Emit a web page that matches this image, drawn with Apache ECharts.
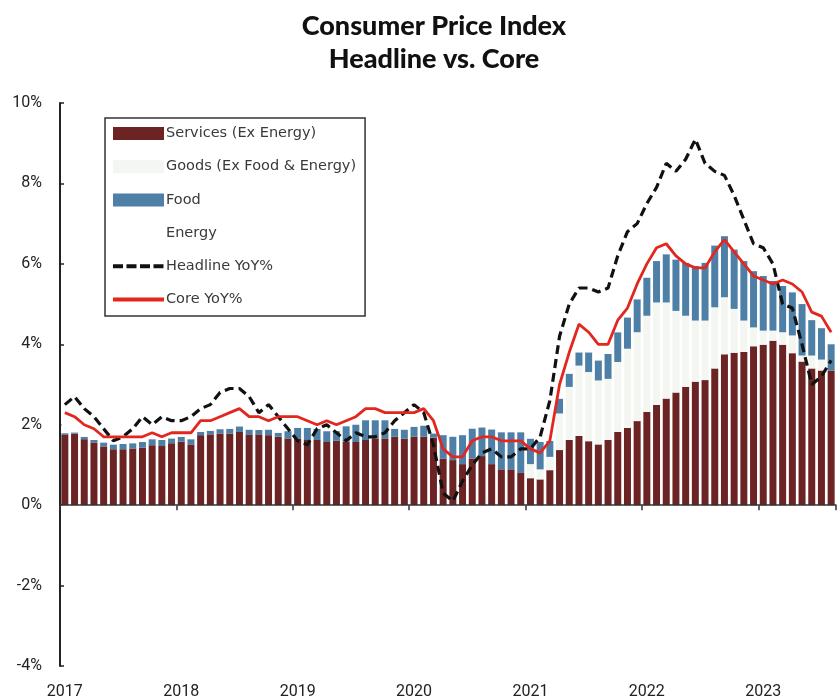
<!DOCTYPE html>
<html>
<head>
<meta charset="utf-8">
<script src="https://cdn.jsdelivr.net/npm/echarts@6/dist/echarts.min.js"></script>
<style>
  html, body { margin: 0; padding: 0; background: #fff; }
  #chart { width: 838px; height: 700px; }
</style>
</head>
<body>
<div id="chart"></div>
<script>
// Contributions to CPI YoY %, monthly Jan 2017 - Aug 2023
const months = [];
for (let y = 2017; y <= 2023; y++) {
  for (let m = 1; m <= 12; m++) {
    if (y === 2023 && m > 8) break;
    months.push(y + "-" + String(m).padStart(2, "0"));
  }
}

const services = [
  1.76, 1.78, 1.64, 1.56, 1.46, 1.39, 1.39, 1.41, 1.43, 1.49, 1.47, 1.54,
  1.58, 1.51, 1.74, 1.76, 1.78, 1.78, 1.82, 1.76, 1.76, 1.74, 1.70, 1.66,
  1.66, 1.62, 1.62, 1.57, 1.60, 1.58, 1.57, 1.62, 1.66, 1.66, 1.70, 1.65,
  1.70, 1.70, 1.68, 1.16, 1.12, 1.02, 1.16, 1.22, 1.02, 0.89, 0.89, 0.80,
  0.67, 0.64, 0.87, 1.37, 1.62, 1.72, 1.59, 1.51, 1.62, 1.82, 1.92, 2.09,
  2.32, 2.49, 2.65, 2.80, 2.94, 3.07, 3.11, 3.40, 3.75, 3.79, 3.81, 3.95,
  3.99, 4.09, 3.99, 3.78, 3.57, 3.40, 3.35, 3.35,
];
const goods = [
  -0.12, -0.13, -0.12, -0.14, -0.16, -0.18, -0.17, -0.18, -0.17, -0.20, -0.19, -0.10,
  -0.10, -0.12, -0.08, -0.06, -0.05, -0.02, -0.03, -0.05, -0.05, -0.08, -0.06, -0.02,
  -0.03, -0.02, -0.02, -0.02, -0.02, -0.04, -0.04, -0.05, -0.06, -0.06, -0.05, -0.03,
  -0.03, -0.02, -0.05, -0.15, -0.18, -0.15, -0.10, -0.02, -0.05, -0.05, -0.05, -0.05,
  0.35, 0.25, 0.33, 0.91, 1.32, 1.75, 1.72, 1.59, 1.52, 1.74, 1.97, 2.21,
  2.39, 2.55, 2.39, 2.03, 1.77, 1.52, 1.48, 1.52, 1.42, 1.09, 0.78, 0.47,
  0.35, 0.25, 0.31, 0.44, 0.15, 0.32, 0.27, 0.00,
];
const food = [
  0.03, 0.03, 0.06, 0.06, 0.10, 0.12, 0.13, 0.13, 0.14, 0.15, 0.15, 0.12,
  0.12, 0.13, 0.08, 0.09, 0.11, 0.12, 0.14, 0.12, 0.11, 0.14, 0.10, 0.18,
  0.26, 0.30, 0.28, 0.27, 0.24, 0.38, 0.43, 0.49, 0.45, 0.45, 0.20, 0.23,
  0.25, 0.28, 0.10, 0.58, 0.58, 0.72, 0.74, 0.71, 0.86, 0.92, 0.92, 1.01,
  0.63, 0.68, 0.40, 0.37, 0.33, 0.33, 0.49, 0.50, 0.62, 0.74, 0.78, 0.82,
  0.95, 1.03, 1.20, 1.28, 1.32, 1.36, 1.44, 1.54, 1.52, 1.48, 1.48, 1.40,
  1.36, 1.24, 1.15, 1.07, 1.28, 0.88, 0.78, 0.65,
];
const energy = [
  0.83, 1.02, 0.82, 0.72, 0.50, 0.27, 0.35, 0.54, 0.80, 0.56, 0.77, 0.54,
  0.50, 0.68, 0.66, 0.71, 0.96, 1.02, 0.97, 0.87, 0.48, 0.70, 0.46, 0.08,
  -0.29, -0.40, 0.02, 0.18, -0.02, -0.32, -0.16, -0.36, -0.35, -0.25, 0.25, 0.45,
  0.58, 0.34, -0.23, -1.19, -1.30, -0.89, -0.80, -0.61, -0.43, -0.56, -0.56, -0.36,
  -0.25, 0.13, 1.00, 1.55, 1.73, 1.60, 1.60, 1.70, 1.64, 1.90, 2.13, 1.88,
  1.84, 1.83, 2.26, 2.19, 2.57, 3.15, 2.47, 1.84, 1.51, 1.34, 1.03, 0.68,
  0.70, 0.42, -0.45, -0.39, -1.00, -1.60, -1.20, -0.30,
];
const headline = [
  2.5, 2.7, 2.4, 2.2, 1.9, 1.6, 1.7, 1.9, 2.2, 2.0, 2.2, 2.1,
  2.1, 2.2, 2.4, 2.5, 2.8, 2.9, 2.9, 2.7, 2.3, 2.5, 2.2, 1.9,
  1.6, 1.5, 1.9, 2.0, 1.8, 1.6, 1.8, 1.7, 1.7, 1.8, 2.1, 2.3,
  2.5, 2.3, 1.5, 0.3, 0.1, 0.6, 1.0, 1.3, 1.4, 1.2, 1.2, 1.4,
  1.4, 1.7, 2.6, 4.2, 5.0, 5.4, 5.4, 5.3, 5.4, 6.2, 6.8, 7.0,
  7.5, 7.9, 8.5, 8.3, 8.6, 9.1, 8.5, 8.3, 8.2, 7.7, 7.1, 6.5,
  6.4, 6.0, 5.0, 4.9, 4.0, 3.0, 3.2, 3.6,
];
const core = [
  2.3, 2.2, 2.0, 1.9, 1.7, 1.7, 1.7, 1.7, 1.7, 1.8, 1.7, 1.8,
  1.8, 1.8, 2.1, 2.1, 2.2, 2.3, 2.4, 2.2, 2.2, 2.1, 2.2, 2.2,
  2.2, 2.1, 2.0, 2.1, 2.0, 2.1, 2.2, 2.4, 2.4, 2.3, 2.3, 2.3,
  2.3, 2.4, 2.1, 1.4, 1.2, 1.2, 1.6, 1.7, 1.7, 1.6, 1.6, 1.6,
  1.4, 1.3, 1.6, 3.0, 3.8, 4.5, 4.3, 4.0, 4.0, 4.6, 4.9, 5.5,
  6.0, 6.4, 6.5, 6.2, 6.0, 5.9, 5.9, 6.3, 6.6, 6.3, 6.0, 5.7,
  5.6, 5.5, 5.6, 5.5, 5.3, 4.8, 4.7, 4.3,
];

const yearTick = (i) => i % 12 === 0;

// legend icons for the two lines (the lone moves keep the icon box 51x13)
const dashIcon = "path://M0,0M51,13M0,4.5h10v4h-10zM13.5,4.5h10v4h-10zM27,4.5h10v4h-10zM40.5,4.5h10v4h-10z";
const solidIcon = "path://M0,0M51,13M0,4.5h51v4h-51z";

function bar(name, data, color) {
  return {
    name,
    type: "bar",
    stack: "cpi",
    data,
    barCategoryGap: "28%",
    // the parts below zero are not shown in the original
    itemStyle: { color: (p) => (p.value < 0 ? "#ffffff" : color) },
    emphasis: { disabled: true },
  };
}

function buildOption() {
  return {
    backgroundColor: "#fff",
    animation: false,
    title: {
      text: "Consumer Price Index\nHeadline vs. Core",
      left: 429,
      top: 5,
      textAlign: "center",
      textStyle: {
        fontFamily: "Lato",
        fontWeight: 900,
        fontSize: 27,
        lineHeight: 33,
        color: "#111",
      },
    },
    legend: {
      orient: "vertical",
      left: 105,
      top: 118,
      padding: [8, 9, 9, 8],
      itemGap: 18.2,
      itemWidth: 51,
      itemHeight: 13,
      symbolKeepAspect: false,
      borderColor: "#333",
      borderWidth: 1.5,
      borderRadius: 0,
      backgroundColor: "#fff",
      textStyle: { fontFamily: "DejaVu Sans", fontSize: 14.5, color: "#3a3a3a", padding: [0, 0, 0, -3] },
      data: [
        { name: "Services (Ex Energy)", icon: "rect", itemStyle: { color: "#6b2323" } },
        { name: "Goods (Ex Food & Energy)", icon: "rect", itemStyle: { color: "#f3f6f1" } },
        { name: "Food", icon: "rect", itemStyle: { color: "#4d7fa7" } },
        { name: "Energy", icon: "rect", itemStyle: { color: "#ffffff" } },
        { name: "Headline YoY%", icon: dashIcon },
        { name: "Core YoY%", icon: solidIcon },
      ],
    },
    grid: { left: 60, right: 2, top: 103, bottom: 28 },
    xAxis: [
      {
        type: "category",
        data: months,
        position: "bottom",
        axisLine: { show: false, onZero: false },
        axisTick: { show: false },
        axisLabel: {
          interval: (i) => yearTick(i),
          formatter: (v) => v.slice(0, 4),
          color: "#222",
          fontFamily: "Roboto",
          fontSize: 16,
          margin: 18,
        },
      },
      {
        type: "category",
        data: months,
        position: "top",
        z: 10,
        axisLine: { onZero: true, lineStyle: { color: "#333", width: 1.5 } },
        axisTick: {
          show: true,
          inside: true,
          interval: (i) => yearTick(i),
          length: 5,
          lineStyle: { color: "#333", width: 1.5 },
        },
        axisLabel: { show: false },
      },
    ],
    yAxis: {
      type: "value",
      min: -4,
      max: 10,
      interval: 2,
      axisLine: { show: true, lineStyle: { color: "#222", width: 2 } },
      axisTick: { show: true, inside: true, length: 4, lineStyle: { color: "#222", width: 1.5 } },
      splitLine: { show: false },
      axisLabel: {
        formatter: "{value}%",
        color: "#222",
        fontFamily: "Roboto",
        fontSize: 16,
        margin: 18,
      },
    },
    series: [
      bar("Services (Ex Energy)", services, "#6b2323"),
      bar("Goods (Ex Food & Energy)", goods, "#f3f6f1"),
      bar("Food", food, "#4d7fa7"),
      bar("Energy", energy, "#ffffff"),
      {
        name: "Headline YoY%",
        type: "line",
        data: headline,
        symbol: "none",
        lineStyle: { color: "#111", width: 3.2, type: [9, 5] },
        itemStyle: { color: "#111" },
        z: 5,
      },
      {
        name: "Core YoY%",
        type: "line",
        data: core,
        symbol: "none",
        lineStyle: { color: "#e2271f", width: 2.8 },
        itemStyle: { color: "#e2271f" },
        z: 6,
      },
    ],
  };
}

const chart = echarts.init(document.getElementById("chart"));
chart.setOption(buildOption());
</script>
</body>
</html>
